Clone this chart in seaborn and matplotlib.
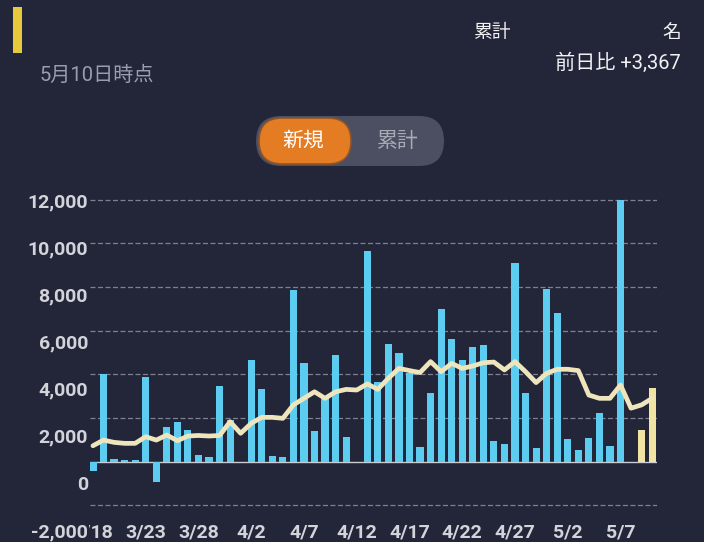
import numpy as np
import pandas as pd
import matplotlib
matplotlib.use("Agg")
import matplotlib.pyplot as plt
from matplotlib.patches import FancyBboxPatch, Rectangle
import seaborn as sns

# ---------------- data ----------------
dates = (["3/%d" % d for d in range(18, 32)] +
         ["4/%d" % d for d in range(1, 31)] +
         ["5/%d" % d for d in range(1, 11)])
new_cases = [
    -430, 4000, 120, 80, 80, 3860, -920, 1600, 1800, 1450, 290, 210, 3480, 1910,
    0, 4670, 3310, 260, 210, 7860, 4530, 1390, 2900, 4870, 1145, 0, 9650, 3630,
    5390, 4980, 4080, 660, 3130, 6990, 5600, 4670, 5250, 5340, 930, 810, 9110,
    3130, 640, 7910,
    6790, 1020, 530, 1070, 2210, 720, 11980, 0, 1440, 3367,
]
avg_line = [
    730, 990, 885, 840, 840, 1145, 990, 1220, 960, 1175, 1200, 1175, 1200, 1830,
    1300, 1755, 2030, 2030, 1985, 2600, 2900, 3200, 2900, 3200, 3310, 3280, 3560,
    3310, 3820, 4270, 4170, 4080, 4580, 4120, 4500, 4270, 4380, 4530, 4560, 4200,
    4580, 4120, 3620, 4045,
    4230, 4230, 4170, 3050, 2900, 2900, 3510, 2450, 2600, 2900,
]
kind = ["confirmed"] * 52 + ["preliminary"] * 2
xtick_labels = ["3/18", "3/23", "3/28", "4/2", "4/7", "4/12", "4/17", "4/22",
                "4/27", "5/2", "5/7"]
ytick_values = [-2000, 0, 2000, 4000, 6000, 8000, 10000, 12000]

df = pd.DataFrame({"date": dates, "cases": new_cases, "avg": avg_line,
                   "kind": kind, "idx": np.arange(len(dates))})

# ---------------- style ----------------
BG = "#232639"
CYAN = "#5ccdf0"
PALE = "#f1e3a2"
LINE = "#efe5bd"
TXT = "#d2d4da"

sns.set_theme(style="white")
plt.rcParams["font.family"] = ["Roboto", "Noto Sans CJK JP", "DejaVu Sans"]

W, H = 704, 542
fig = plt.figure(figsize=(W / 100, H / 100), dpi=100, facecolor=BG)

# overlay axes in pixel coordinates for the header decorations
ov = fig.add_axes([0, 0, 1, 1], zorder=0)
ov.set_xlim(0, W)
ov.set_ylim(H, 0)
ov.axis("off")

# axes geometry in pixels
ax_left, ax_right, ax_top, ax_bot = 90, 657, 193, 537
ax = fig.add_axes([ax_left / W, 1 - ax_bot / H,
                   (ax_right - ax_left) / W, (ax_bot - ax_top) / H], zorder=1)
ax.set_facecolor(BG)

sns.barplot(data=df, x="date", y="cases", hue="kind",
            palette={"confirmed": CYAN, "preliminary": PALE},
            dodge=False, width=0.68, legend=False, ax=ax, zorder=3,
            saturation=1, linewidth=0, edgecolor="none")
sns.lineplot(data=df, x="idx", y="avg", color=LINE, linewidth=3.4, ax=ax,
             zorder=4, solid_capstyle="round", solid_joinstyle="round")

px_per_unit = 0.02185
ax.set_ylim(-(ax_bot - 461.7) / px_per_unit, (461.7 - ax_top) / px_per_unit)
ax.set_xlim(-0.28, 53.46)
ax.set_yticks(ytick_values)
ax.set_yticklabels([])
ax.tick_params(axis="y", length=0)
for v in ytick_values:
    if v == 0:
        ax.axhline(v, color="#c9ccd3", lw=1.0, zorder=2)
    else:
        ax.axhline(v, color="#7d8090", lw=0.9, ls=(0, (4, 2)), zorder=1)

tick_pos = [dates.index(t) for t in xtick_labels]
ax.set_xticks(tick_pos)
ax.set_xticklabels(xtick_labels)
ax.tick_params(axis="x", length=0, pad=-10, labelsize=14, colors=TXT)
for t in ax.get_xticklabels():
    t.set_fontweight("bold")
ax.set_xlabel("")
ax.set_ylabel("")
for s in ax.spines.values():
    s.set_visible(False)

# tick labels (the app draws them with slightly different spacing than the grid)
ax2 = ax.twinx()
lab_px = 330 / 14000
ax2.set_ylim(12000 - (ax_bot - 200) / lab_px, 12000 + (200 - ax_top) / lab_px)
ax2.set_yticks(ytick_values)
ax2.set_yticklabels([f"{v:,}" for v in ytick_values])
ax2.yaxis.tick_left()
ax2.tick_params(axis="y", length=0, pad=1.5, labelsize=14, colors=TXT)
for t in ax2.get_yticklabels():
    t.set_fontweight("bold")
ax2.get_yticklabels()[0].set_bbox(dict(facecolor=BG, edgecolor="none", pad=0.5))
for s in ax2.spines.values():
    s.set_visible(False)

# ---------------- header ----------------
ov.add_patch(Rectangle((13, 7), 9, 46, facecolor="#e6c93c", edgecolor="none"))
ov.text(40, 75, "5月10日時点", color="#9a9dab", fontsize=14.5,
        ha="left", va="center")
ov.text(492, 33, "累計", color="#f2f2f4", fontsize=13.5,
        ha="center", va="center")
ov.text(681, 33, "名", color="#f2f2f4", fontsize=13.5,
        ha="right", va="center")
ov.text(681, 63, "前日比 +3,367", color="#f2f2f4", fontsize=14.5,
        ha="right", va="center")

# toggle pill
ov.add_patch(FancyBboxPatch((256, 116), 188, 50,
                            boxstyle="round,pad=0,rounding_size=25",
                            facecolor="#4b4f61", edgecolor="none"))
ov.add_patch(FancyBboxPatch((259, 118), 92, 46,
                            boxstyle="round,pad=0,rounding_size=23",
                            facecolor="#e37c23", edgecolor="#8f552a",
                            linewidth=1.2))
ov.text(303, 141, "新規", color="white", fontsize=15,
        ha="center", va="center")
ov.text(398, 141, "累計", color="#a8abb6", fontsize=15,
        ha="center", va="center")

fig.savefig("out.png", dpi=100, facecolor=BG)
